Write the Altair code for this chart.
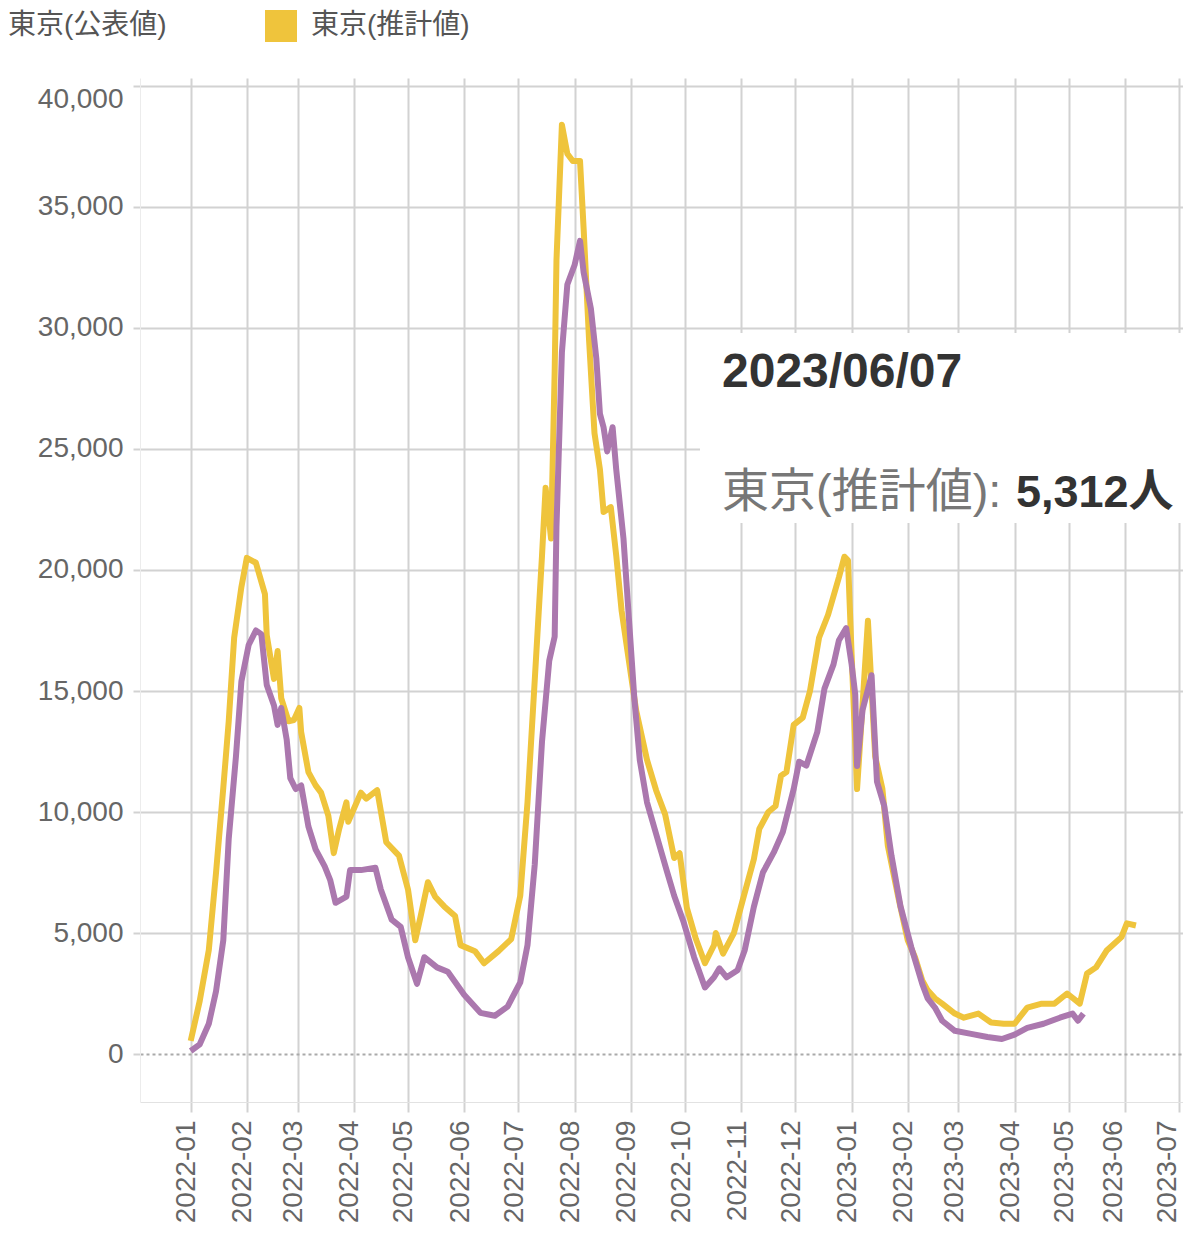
import altair as alt
import pandas as pd

# ---------------- data ----------------
series_names = ["東京(公表値)", "東京(推計値)"]
series_colors = ["#AB78AE", "#EFC43C"]

est_dates = [
    "2022-01-01", "2022-01-06", "2022-01-11", "2022-01-15", "2022-01-19", "2022-01-22",
    "2022-01-25", "2022-01-29", "2022-02-01", "2022-02-06", "2022-02-11", "2022-02-12",
    "2022-02-16", "2022-02-18", "2022-02-20", "2022-02-24", "2022-02-27", "2022-03-02",
    "2022-03-03", "2022-03-07", "2022-03-11", "2022-03-14", "2022-03-18", "2022-03-21",
    "2022-03-24", "2022-03-28", "2022-03-29", "2022-04-05", "2022-04-08", "2022-04-14",
    "2022-04-19", "2022-04-26", "2022-05-01", "2022-05-05", "2022-05-08", "2022-05-12",
    "2022-05-16", "2022-05-21", "2022-05-27", "2022-05-30", "2022-06-07", "2022-06-12",
    "2022-06-20", "2022-06-27", "2022-07-02", "2022-07-06", "2022-07-10", "2022-07-14",
    "2022-07-16", "2022-07-19", "2022-07-21", "2022-07-22", "2022-07-25", "2022-07-28",
    "2022-07-31", "2022-08-04", "2022-08-06", "2022-08-09", "2022-08-12", "2022-08-15",
    "2022-08-17", "2022-08-21", "2022-08-24", "2022-08-27", "2022-08-31", "2022-09-04",
    "2022-09-10", "2022-09-15", "2022-09-20", "2022-09-25", "2022-09-28", "2022-10-02",
    "2022-10-07", "2022-10-12", "2022-10-17", "2022-10-18", "2022-10-22", "2022-10-28",
    "2022-11-02", "2022-11-08", "2022-11-11", "2022-11-16", "2022-11-20", "2022-11-23",
    "2022-11-26", "2022-11-30", "2022-12-05", "2022-12-09", "2022-12-14", "2022-12-19",
    "2022-12-25", "2022-12-28", "2022-12-30", "2023-01-01", "2023-01-04", "2023-01-07",
    "2023-01-10", "2023-01-14", "2023-01-18", "2023-01-21", "2023-01-27", "2023-02-01",
    "2023-02-05", "2023-02-09", "2023-02-12", "2023-02-16", "2023-02-20", "2023-02-27",
    "2023-03-04", "2023-03-12", "2023-03-19", "2023-03-26", "2023-04-01", "2023-04-08",
    "2023-04-16", "2023-04-23", "2023-04-30", "2023-05-07", "2023-05-11", "2023-05-16",
    "2023-05-22", "2023-05-30", "2023-06-02", "2023-06-07",
]
est_values = [
    540, 2200, 4300, 7500, 11000, 13750,
    17200, 19300, 20500, 20300, 19000, 17300,
    15500, 16650, 14700, 13750, 13800, 14300,
    13300, 11650, 11100, 10800, 9850, 8300,
    9300, 10400, 9600, 10800, 10550, 10900,
    8750, 8200, 6800, 4700, 5700, 7100,
    6500, 6100, 5700, 4500, 4250, 3750,
    4250, 4750, 6540, 10400, 15450, 20580,
    23400, 21300, 28200, 32800, 38400, 37200,
    36900, 36900, 34100, 29500, 25650, 24150,
    22400, 22600, 20600, 18300, 16250, 14200,
    12150, 10900, 9900, 8100, 8300, 6040,
    4750, 3750, 4500, 5000, 4150, 5000,
    6400, 8050, 9300, 10000, 10250, 11500,
    11650, 13600, 13900, 15000, 17200, 18150,
    19700, 20550, 20400, 16500, 10950, 14400,
    17900, 12300, 10950, 8600, 6400, 4700,
    4000, 3040, 2630, 2300, 2080, 1670,
    1500, 1670, 1300, 1250, 1250, 1920,
    2080, 2080, 2500, 2080, 3330, 3580,
    4290, 4830, 5400, 5312,
]

pub_dates = [
    "2022-01-01", "2022-01-06", "2022-01-11", "2022-01-15", "2022-01-19", "2022-01-22",
    "2022-01-26", "2022-01-29", "2022-02-02", "2022-02-06", "2022-02-09", "2022-02-12",
    "2022-02-16", "2022-02-18", "2022-02-20", "2022-02-23", "2022-02-25", "2022-02-28",
    "2022-03-03", "2022-03-07", "2022-03-11", "2022-03-16", "2022-03-19", "2022-03-22",
    "2022-03-28", "2022-03-30", "2022-04-05", "2022-04-13", "2022-04-16", "2022-04-22",
    "2022-04-27", "2022-05-01", "2022-05-06", "2022-05-10", "2022-05-17", "2022-05-23",
    "2022-06-01", "2022-06-10", "2022-06-18", "2022-06-25", "2022-07-02", "2022-07-06",
    "2022-07-10", "2022-07-14", "2022-07-18", "2022-07-21", "2022-07-22", "2022-07-25",
    "2022-07-28", "2022-08-01", "2022-08-04", "2022-08-06", "2022-08-10", "2022-08-13",
    "2022-08-15", "2022-08-17", "2022-08-19", "2022-08-22", "2022-08-24", "2022-08-28",
    "2022-08-31", "2022-09-03", "2022-09-06", "2022-09-10", "2022-09-15", "2022-09-21",
    "2022-09-25", "2022-09-30", "2022-10-06", "2022-10-12", "2022-10-17", "2022-10-20",
    "2022-10-24", "2022-10-30", "2022-11-03", "2022-11-08", "2022-11-13", "2022-11-19",
    "2022-11-24", "2022-11-30", "2022-12-03", "2022-12-07", "2022-12-13", "2022-12-17",
    "2022-12-22", "2022-12-25", "2022-12-29", "2023-01-01", "2023-01-03", "2023-01-04",
    "2023-01-07", "2023-01-12", "2023-01-15", "2023-01-19", "2023-01-23", "2023-01-28",
    "2023-02-03", "2023-02-09", "2023-02-12", "2023-02-16", "2023-02-20", "2023-02-27",
    "2023-03-08", "2023-03-17", "2023-03-25", "2023-04-01", "2023-04-08", "2023-04-17",
    "2023-04-26", "2023-05-03", "2023-05-06", "2023-05-09",
]
pub_values = [
    125, 400, 1250, 2600, 4700, 8900,
    12300, 15400, 16900, 17500, 17350, 15250,
    14400, 13600, 14300, 13000, 11400, 10950,
    11100, 9400, 8450, 7750, 7200, 6250,
    6500, 7600, 7600, 7700, 6800, 5550,
    5250, 4000, 2900, 4000, 3580, 3400,
    2450, 1700, 1580, 1960, 2960, 4500,
    7830, 12900, 16250, 17250, 21800, 29000,
    31800, 32600, 33600, 32300, 30800, 28750,
    26450, 25900, 24900, 25900, 24150, 21300,
    18000, 14700, 12150, 10400, 9100, 7550,
    6540, 5500, 4000, 2750, 3170, 3540,
    3170, 3460, 4300, 6080, 7500, 8330,
    9170, 10950, 12080, 11920, 13300, 15100,
    16100, 17100, 17600, 16100, 14850, 11900,
    14200, 15650, 11250, 10250, 8200, 6100,
    4400, 2900, 2300, 1920, 1375, 960,
    830, 700, 620, 800, 1080, 1250,
    1500, 1670, 1375, 1670,
]

month_ticks = [
    "2022-01", "2022-02", "2022-03", "2022-04", "2022-05", "2022-06", "2022-07",
    "2022-08", "2022-09", "2022-10", "2022-11", "2022-12", "2023-01", "2023-02",
    "2023-03", "2023-04", "2023-05", "2023-06", "2023-07",
]
y_ticks = [0, 5000, 10000, 15000, 20000, 25000, 30000, 35000, 40000]

tooltip_date = ["2023/06/07"]
tooltip_label = ["東京(推計値):"]
tooltip_value = ["5,312人"]

# ---------------- chart ----------------
FONT = "Liberation Sans, Arial, Noto Sans CJK JP, sans-serif"

df_est = pd.DataFrame({"date": est_dates, "value": est_values, "series": series_names[1]})
df_pub = pd.DataFrame({"date": pub_dates, "value": pub_values, "series": series_names[0]})


def dt(y, m, d):
    return alt.DateTime(year=y, month=m, date=d, utc=True)


x_enc = alt.X(
    "date:T",
    title=None,
    scale=alt.Scale(type="utc", domain=[dt(2021, 12, 4), dt(2023, 7, 3)]),
    axis=alt.Axis(
        values=[dt(int(m[:4]), int(m[5:]), 1) for m in month_ticks],
        format="%Y-%m",
        labelAngle=270,
        tickSize=10,
        labelPadding=8,
        labelOffset=alt.condition("datum.value >= utc(2023, 5, 1)", alt.value(-12), alt.value(-4)),
        domainColor="#e2e2e2",
    ),
)
y_enc = alt.Y(
    "value:Q",
    title=None,
    scale=alt.Scale(domain=[-1983, 40330], nice=False, zero=False),
    axis=alt.Axis(
        values=y_ticks,
        format=",d",
        tickSize=7,
        labelPadding=10,
        labelFlush=10,
        domainColor="#ececec",
        gridDash=alt.condition("datum.value == 0", alt.value([3, 3]), alt.value([])),
        gridColor=alt.condition("datum.value == 0", alt.value("#aaaaaa"), alt.value("#d2d2d2")),
    ),
)
color_enc = alt.Color(
    "series:N",
    scale=alt.Scale(domain=series_names, range=series_colors),
    legend=alt.Legend(
        orient="none",
        legendX=-178,
        legendY=-68,
        direction="horizontal",
        title=None,
        symbolType="square",
        symbolSize=256,
        symbolStrokeWidth=16,
        symbolOpacity=1,
        labelFontSize=28,
        labelColor="#555555",
        labelFont=FONT,
        labelOffset=14,
        columnPadding=74,
        padding=0,
    ),
)

line_est = alt.Chart(df_est).mark_line(strokeWidth=6, strokeJoin="round").encode(
    x=x_enc, y=y_enc, color=color_enc
)
line_pub = alt.Chart(df_pub).mark_line(strokeWidth=6, strokeJoin="round").encode(
    x=x_enc, y=y_enc, color=color_enc
)

tip_box = alt.Chart(pd.DataFrame({"k": [0]})).mark_rect(color="white").encode(
    x=alt.value(560), x2=alt.value(1060), y=alt.value(255), y2=alt.value(445)
)
tip_date = alt.Chart(pd.DataFrame({"t": tooltip_date})).mark_text(
    align="left", baseline="alphabetic", fontSize=48, fontWeight="bold", color="#333333", font=FONT
).encode(x=alt.value(582), y=alt.value(309), text="t:N")
tip_label = alt.Chart(pd.DataFrame({"t": tooltip_label})).mark_text(
    align="left", baseline="alphabetic", fontSize=47, color="#777777", font=FONT
).encode(x=alt.value(582), y=alt.value(429), text="t:N")
tip_value = alt.Chart(pd.DataFrame({"t": tooltip_value})).mark_text(
    align="left", baseline="alphabetic", fontSize=45, fontWeight="bold", color="#333333", font=FONT
).encode(x=alt.value(876), y=alt.value(429), text="t:N")

chart = (
    alt.layer(line_est, line_pub, tip_box, tip_date, tip_label, tip_value)
    .properties(
        width=1043,
        height=1024,
        padding={"left": 132, "top": 70, "right": 0, "bottom": 129},
        autosize=alt.AutoSizeParams(type="none"),
    )
    .configure_view(stroke=None)
    .configure_axis(
        labelFont=FONT,
        labelFontSize=28,
        labelColor="#666666",
        gridColor="#d2d2d2",
        gridWidth=2,
        tickColor="#d2d2d2",
        tickWidth=2,
    )
)

chart.save("out.html", embed_options={"renderer": "svg", "actions": False})
